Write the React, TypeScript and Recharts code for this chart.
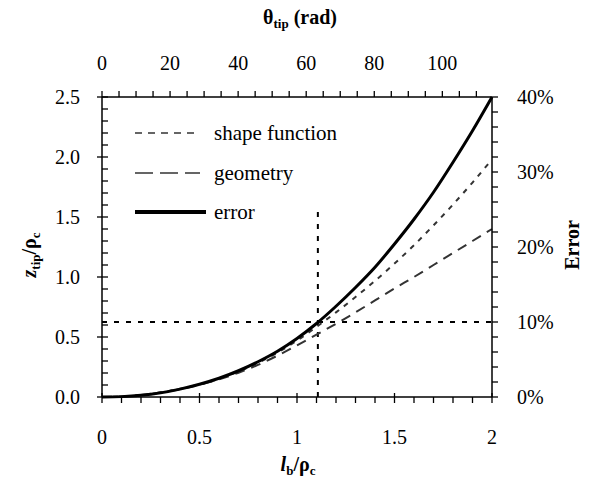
import React from "react";
import {
  ComposedChart,
  Line,
  XAxis,
  YAxis,
  ReferenceLine,
  Legend,
  Label,
} from "recharts";

// l_b / rho_c
const LB = [0, 0.1, 0.2, 0.3, 0.4, 0.5, 0.6, 0.7, 0.8, 0.9, 1.0, 1.1, 1.2, 1.3, 1.4, 1.5, 1.6, 1.7, 1.8, 1.9, 2.0];
// z_tip / rho_c
const SHAPE = [0, 0.004, 0.017, 0.039, 0.068, 0.104, 0.152, 0.212, 0.284, 0.37, 0.47, 0.585, 0.705, 0.833, 0.968, 1.112, 1.265, 1.43, 1.604, 1.787, 1.98];
const GEOMETRY = [0, 0.004, 0.016, 0.037, 0.065, 0.101, 0.146, 0.202, 0.268, 0.345, 0.43, 0.52, 0.61, 0.705, 0.805, 0.905, 1.0, 1.1, 1.2, 1.3, 1.4];
// error, %
const ERROR = [0, 0.05, 0.22, 0.55, 1.05, 1.7, 2.5, 3.5, 4.7, 6.1, 7.8, 9.8, 12.1, 14.6, 17.3, 20.4, 23.7, 27.3, 31.3, 35.5, 40];

const X_TICKS = [0, 0.1, 0.2, 0.3, 0.4, 0.5, 0.6, 0.7, 0.8, 0.9, 1, 1.1, 1.2, 1.3, 1.4, 1.5, 1.6, 1.7, 1.8, 1.9, 2];
const Y_TICKS = [0, 0.1, 0.2, 0.3, 0.4, 0.5, 0.6, 0.7, 0.8, 0.9, 1, 1.1, 1.2, 1.3, 1.4, 1.5, 1.6, 1.7, 1.8, 1.9, 2, 2.1, 2.2, 2.3, 2.4, 2.5];
const DEG_TICKS = [0, 5, 10, 15, 20, 25, 30, 35, 40, 45, 50, 55, 60, 65, 70, 75, 80, 85, 90, 95, 100, 105, 110];
const ERR_TICKS = [0, 2, 4, 6, 8, 10, 12, 14, 16, 18, 20, 22, 24, 26, 28, 30, 32, 34, 36, 38, 40];

// top axis is the same l_b scale read in degrees
const DEG_PER_UNIT = 180 / Math.PI;

// marker lines
const MARK_X = 1.107;
const MARK_Y = 0.625;
const MARK_TOP = 1.58;

const data = LB.map((x, i) => ({ x, shape: SHAPE[i], geometry: GEOMETRY[i], error: ERROR[i] }));

const series = [
  { key: "shape", name: "shape function", axis: "l", dash: "5 6", legendDash: "7 6", width: 2, color: "#333" },
  { key: "geometry", name: "geometry", axis: "l", dash: "10 7", legendDash: "18 7", width: 2, color: "#333" },
  { key: "error", name: "error", axis: "r", dash: undefined, legendDash: undefined, width: 3, color: "#000" },
];

const FONT = "'Liberation Serif', 'Times New Roman', Times, serif";
const txt = { fontFamily: FONT, fontSize: 20, fill: "#000" };

const onStep = (v: number, step: number) => Math.abs(v / step - Math.round(v / step)) < 1e-6;

function LeftTick({ x, y, payload }: any) {
  const v = payload.value;
  const major = onStep(v, 0.5);
  return (
    <g>
      <line x1={major ? x - 5 : x} x2={x + 6} y1={y} y2={y} stroke="#000" strokeWidth={1.3} />
      {major && (
        <text style={txt} x={x - 22} y={y} textAnchor="end" dominantBaseline="central">
          {v.toFixed(1)}
        </text>
      )}
    </g>
  );
}

function RightTick({ x, y, payload }: any) {
  const v = payload.value;
  const major = onStep(v, 10);
  return (
    <g>
      <line x1={x} x2={x + 6} y1={y} y2={y} stroke="#000" strokeWidth={1.3} />
      {major && (
        <text style={txt} x={x + 25} y={y} textAnchor="start" dominantBaseline="central">
          {v + "%"}
        </text>
      )}
    </g>
  );
}

function BottomTick({ x, y, payload }: any) {
  const v = payload.value;
  const major = onStep(v, 0.5);
  return (
    <g>
      <line x1={x} x2={x} y1={major ? y - 4 : y} y2={y + 6} stroke="#000" strokeWidth={1.3} />
      {major && (
        <text style={txt} x={x} y={y + 40} textAnchor="middle" dominantBaseline="central">
          {String(v)}
        </text>
      )}
    </g>
  );
}

function TopTick({ x, y, payload }: any) {
  const deg = Math.round(payload.value * DEG_PER_UNIT);
  const major = deg % 20 === 0;
  return (
    <g>
      <line x1={x} x2={x} y1={y - 6} y2={y} stroke="#000" strokeWidth={1.3} />
      {major && (
        <text style={txt} x={x} y={y - 34} textAnchor="middle" dominantBaseline="central">
          {String(deg)}
        </text>
      )}
    </g>
  );
}

function LegendBox() {
  return (
    <svg width={240} height={110}>
      {series.map((s, i) => {
        const cy = [15, 55, 94][i];
        return (
          <g key={s.key}>
            <line
              x1={5}
              x2={s.dash ? 70 : 76}
              y1={cy}
              y2={cy}
              stroke={s.color}
              strokeWidth={s.dash ? 1.5 : 4}
              strokeDasharray={s.legendDash}
            />
            <text x={84} y={cy} dominantBaseline="central" style={{ ...txt, fontSize: 21 }}>
              {s.name}
            </text>
          </g>
        );
      })}
    </svg>
  );
}

const title = { fontFamily: FONT, fontSize: 20, fontWeight: "bold" as const, fill: "#000" };

export default function App() {
  return (
    <div style={{ position: "absolute", left: 0, top: 0, background: "#fff", fontFamily: FONT }}>
      <ComposedChart width={596} height={491} data={data} margin={{ top: 0, right: 0, bottom: 0, left: 0 }}>
        <XAxis
          xAxisId="b"
          dataKey="x"
          type="number"
          domain={[0, 2]}
          ticks={X_TICKS}
          interval={0}
          height={94}
          tickSize={0}
          tickMargin={0}
          tick={<BottomTick />}
          stroke="#000"
          strokeWidth={1.5}
        >
          <Label
            content={() => (
              <text style={title} x={298} y={471} textAnchor="middle">
                <tspan fontStyle="italic">l</tspan>
                <tspan fontSize={13} dy={4}>b</tspan>
                <tspan dy={-4}>/ρ</tspan>
                <tspan fontSize={13} dy={4}>c</tspan>
              </text>
            )}
          />
        </XAxis>
        <XAxis
          xAxisId="t"
          dataKey="x"
          orientation="top"
          type="number"
          domain={[0, 2]}
          ticks={DEG_TICKS.map((d) => d / DEG_PER_UNIT)}
          interval={0}
          height={97}
          tickSize={0}
          tickMargin={0}
          tick={<TopTick />}
          stroke="#000"
          strokeWidth={1.5}
        >
          <Label
            content={() => (
              <text style={title} x={300} y={24} textAnchor="middle">
                θ<tspan fontSize={13} dy={4}>tip</tspan>
                <tspan dy={-4}> (rad)</tspan>
              </text>
            )}
          />
        </XAxis>
        <YAxis
          yAxisId="l"
          type="number"
          domain={[0, 2.5]}
          ticks={Y_TICKS}
          interval={0}
          width={102}
          tickSize={0}
          tickMargin={0}
          tick={<LeftTick />}
          stroke="#000"
          strokeWidth={1.5}
        >
          <Label
            content={() => (
              <text style={title} transform="translate(36 255) rotate(-90)" textAnchor="middle">
                <tspan fontStyle="italic">z</tspan>
                <tspan fontSize={13} dy={4}>tip</tspan>
                <tspan dy={-4}>/ρ</tspan>
                <tspan fontSize={13} dy={4}>c</tspan>
              </text>
            )}
          />
        </YAxis>
        <YAxis
          yAxisId="r"
          orientation="right"
          type="number"
          domain={[0, 40]}
          ticks={ERR_TICKS}
          interval={0}
          width={104}
          tickSize={0}
          tickMargin={0}
          tick={<RightTick />}
          stroke="#000"
          strokeWidth={1.5}
        >
          <Label
            content={() => (
              <text style={title} transform="translate(579 245) rotate(-90)" textAnchor="middle">
                Error
              </text>
            )}
          />
        </YAxis>

        <ReferenceLine
          xAxisId="b"
          yAxisId="l"
          segment={[{ x: MARK_X, y: 0 }, { x: MARK_X, y: MARK_TOP }]}
          stroke="#000"
          strokeWidth={2}
          strokeDasharray="5 7"
        />
        <ReferenceLine
          xAxisId="b"
          yAxisId="l"
          y={MARK_Y}
          stroke="#000"
          strokeWidth={2}
          strokeDasharray="5 7"
        />

        {series.map((s) => (
          <Line
            key={s.key}
            xAxisId="b"
            yAxisId={s.axis}
            dataKey={s.key}
            name={s.name}
            type="monotone"
            stroke={s.color}
            strokeWidth={s.width}
            strokeDasharray={s.dash}
            dot={false}
            activeDot={false}
            isAnimationActive={false}
          />
        ))}

        <Legend
          layout="horizontal"
          verticalAlign="middle"
          align="center"
          wrapperStyle={{ left: 130, top: 118, width: 240, height: 110 }}
          content={() => <LegendBox />}
        />
      </ComposedChart>
    </div>
  );
}
